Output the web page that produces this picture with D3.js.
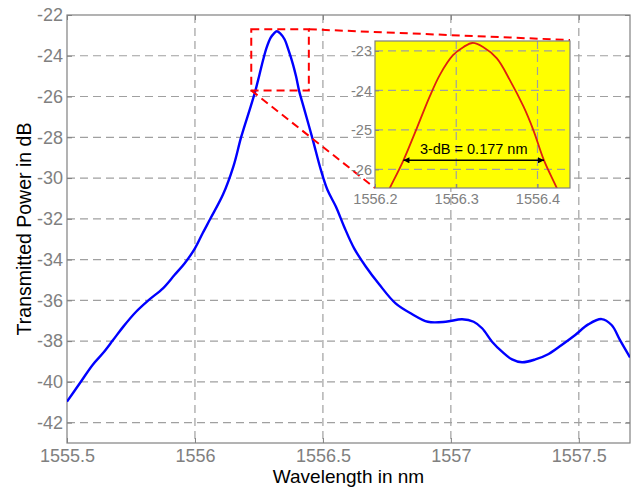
<!DOCTYPE html>
<html>
<head>
<meta charset="utf-8">
<script src="https://cdn.jsdelivr.net/npm/d3@7"></script>
<style>
html,body{margin:0;padding:0;background:#fff;}
svg{display:block;font-family:"Liberation Sans",Arial,Helvetica,sans-serif;}
</style>
</head>
<body>
<svg id="chart" width="636" height="487"></svg>
<script>
// ---- data ----
const wavelength = [1555.50,1555.55,1555.60,1555.64,1555.68,1555.72,1555.77,1555.82,1555.875,1555.92,1555.96,1556.00,1556.03,1556.06,1556.11,1556.15,1556.181,
  1556.218,1556.235,1556.252,1556.267,1556.28,1556.296,1556.309,1556.320,1556.333,1556.35,1556.366,1556.383,1556.395,1556.408,1556.424,
  1556.459,1556.492,1556.518,1556.551,1556.583,1556.622,1556.668,1556.719,1556.784,1556.849,1556.91,1556.98,1557.044,1557.089,1557.122,1557.161,1557.20,1557.239,1557.278,1557.33,1557.382,1557.433,1557.486,1557.537,1557.589,1557.628,1557.661,1557.70];
const power = [-40.97,-40.07,-39.17,-38.60,-37.95,-37.29,-36.56,-35.98,-35.41,-34.76,-34.18,-33.45,-32.71,-32.00,-30.80,-29.44,-27.97,
  -26.48,-25.77,-24.93,-24.17,-23.60,-23.11,-22.90,-22.80,-22.90,-23.19,-23.74,-24.42,-25.01,-25.77,-26.48,
  -28.05,-29.60,-30.59,-31.41,-32.39,-33.45,-34.35,-35.20,-36.15,-36.68,-37.05,-37.05,-36.93,-37.05,-37.37,-38.03,-38.52,-38.90,-39.04,-38.90,-38.63,-38.19,-37.70,-37.18,-36.92,-37.21,-37.95,-38.80];
const xTicks = [1555.5,1556,1556.5,1557,1557.5];
const xTickLabels = ["1555.5","1556","1556.5","1557","1557.5"];
const yTicks = [-42,-40,-38,-36,-34,-32,-30,-28,-26,-24,-22];
const yTickLabels = ["-42","-40","-38","-36","-34","-32","-30","-28","-26","-24","-22"];
const insetXTicks = [1556.2,1556.3,1556.4];
const insetXTickLabels = ["1556.2","1556.3","1556.4"];
const insetYTicks = [-26,-25,-24,-23];
const insetYTickLabels = ["-26","-25","-24","-23"];
const zoomBoxX = [1556.22,1556.445];
const zoomBoxY = [-25.7,-22.7];
const fwhmX = [1556.235,1556.408];
const fwhmY = -25.77;
const fwhmLabel = "3-dB = 0.177 nm";
const xLabel = "Wavelength in nm";
const yLabel = "Transmitted Power in dB";

const data = wavelength.map((w,i)=>({w, p: power[i]}));

// ---- layout ----
const svg = d3.select("#chart");
const M = {left:67, top:15, right:630, bottom:443};
const x = d3.scaleLinear().domain([1555.5,1557.7]).range([M.left,M.right]);
const y = d3.scaleLinear().domain([-43,-22]).range([M.bottom,M.top]);

const gridColor = "#a0a0a0", axisColor = "#808080", labelColor = "#808080";
const defs = svg.append("defs");
defs.append("clipPath").attr("id","mainClip").append("rect")
  .attr("x",M.left).attr("y",M.top).attr("width",M.right-M.left).attr("height",M.bottom-M.top);

// grid
const grid = svg.append("g");
grid.selectAll(".gx").data(xTicks.slice(1)).join("line")
  .attr("x1",d=>x(d)).attr("x2",d=>x(d)).attr("y1",M.top).attr("y2",M.bottom)
  .attr("stroke",gridColor).attr("stroke-width",1.2).attr("stroke-dasharray","8,5");
grid.selectAll(".gy").data(yTicks.filter(d=>d>-43 && d<-22)).join("line")
  .attr("y1",d=>y(d)).attr("y2",d=>y(d)).attr("x1",M.left).attr("x2",M.right)
  .attr("stroke",gridColor).attr("stroke-width",1.2).attr("stroke-dasharray","8,5");

// axes (MATLAB-like box, inward ticks)
const axB = d3.axisBottom(x).tickValues(xTicks).tickFormat((d,i)=>xTickLabels[i]).tickSizeInner(-5).tickSizeOuter(0).tickPadding(6);
const axT = d3.axisTop(x).tickValues(xTicks).tickFormat("").tickSizeInner(-5).tickSizeOuter(0);
const axL = d3.axisLeft(y).tickValues(yTicks).tickFormat((d,i)=>yTickLabels[i]).tickSizeInner(-5).tickSizeOuter(0).tickPadding(4);
const axR = d3.axisRight(y).tickValues(yTicks).tickFormat("").tickSizeInner(-5).tickSizeOuter(0);
function styleAxis(g, fs){
  g.select(".domain").remove();
  g.selectAll("line").attr("stroke",axisColor);
  g.selectAll("text").attr("fill",labelColor).style("font-size",fs+"px").attr("font-family",null);
}
svg.append("g").attr("transform",`translate(0,${M.bottom})`).call(axB).call(g=>styleAxis(g,18));
svg.append("g").attr("transform",`translate(0,${M.top})`).call(axT).call(g=>styleAxis(g,18));
svg.append("g").attr("transform",`translate(${M.left},0)`).call(axL).call(g=>styleAxis(g,18));
svg.append("g").attr("transform",`translate(${M.right},0)`).call(axR).call(g=>styleAxis(g,18));
svg.append("rect").attr("x",M.left).attr("y",M.top).attr("width",M.right-M.left).attr("height",M.bottom-M.top)
  .attr("fill","none").attr("stroke",axisColor).attr("stroke-width",1.2);

// main curve
const line = d3.line().x(d=>x(d.w)).y(d=>y(d.p)).curve(d3.curveCatmullRom.alpha(0.5));
svg.append("path").datum(data).attr("clip-path","url(#mainClip)")
  .attr("d",line).attr("fill","none").attr("stroke","#0000ff").attr("stroke-width",2.4);

// titles
svg.append("text").attr("x",(M.left+M.right)/2).attr("y",483).attr("text-anchor","middle")
  .style("font-size","19px").attr("fill","#000").text(xLabel);
svg.append("text").attr("transform",`translate(31,${(M.top+M.bottom)/2}) rotate(-90)`).attr("text-anchor","middle")
  .style("font-size","19.5px").attr("fill","#000").text(yLabel);

// ---- inset ----
const I = {left:375, top:41, right:570, bottom:188};
const xi = d3.scaleLinear().domain([1556.2,1556.44]).range([I.left,I.right]);
const yi = d3.scaleLinear().domain([-26.47,-22.75]).range([I.bottom,I.top]);

// zoom box + connectors
const red = "#ff0000";
const bx0 = x(zoomBoxX[0]), bx1 = x(zoomBoxX[1]), by0 = y(zoomBoxY[1]), by1 = y(zoomBoxY[0]);
svg.append("rect").attr("x",bx0).attr("y",by0).attr("width",bx1-bx0).attr("height",by1-by0)
  .attr("fill","none").attr("stroke",red).attr("stroke-width",2).attr("stroke-dasharray","8,5");
svg.append("line").attr("x1",bx1).attr("y1",by0).attr("x2",I.right).attr("y2",I.top-1)
  .attr("stroke",red).attr("stroke-width",2).attr("stroke-dasharray","8,5");
svg.append("line").attr("x1",bx0).attr("y1",by1).attr("x2",I.left).attr("y2",I.bottom)
  .attr("stroke",red).attr("stroke-width",2).attr("stroke-dasharray","8,5");

svg.append("rect").attr("x",I.left).attr("y",I.top).attr("width",I.right-I.left).attr("height",I.bottom-I.top)
  .attr("fill","#ffff00");
defs.append("clipPath").attr("id","insetClip").append("rect")
  .attr("x",I.left).attr("y",I.top).attr("width",I.right-I.left).attr("height",I.bottom-I.top);
const ig = svg.append("g");
ig.selectAll(".igx").data(insetXTicks.slice(1)).join("line")
  .attr("x1",d=>xi(d)).attr("x2",d=>xi(d)).attr("y1",I.top).attr("y2",I.bottom)
  .attr("stroke",gridColor).attr("stroke-width",1.2).attr("stroke-dasharray","8,5");
ig.selectAll(".igy").data(insetYTicks).join("line")
  .attr("y1",d=>yi(d)).attr("y2",d=>yi(d)).attr("x1",I.left).attr("x2",I.right)
  .attr("stroke",gridColor).attr("stroke-width",1.2).attr("stroke-dasharray","8,5");

const aiB = d3.axisBottom(xi).tickValues(insetXTicks).tickFormat((d,i)=>insetXTickLabels[i]).tickSizeInner(-4).tickSizeOuter(0).tickPadding(6);
const aiL = d3.axisLeft(yi).tickValues(insetYTicks).tickFormat((d,i)=>insetYTickLabels[i]).tickSizeInner(-4).tickSizeOuter(0).tickPadding(3);
svg.append("g").attr("transform",`translate(0,${I.bottom})`).call(aiB).call(g=>styleAxis(g,14.5));
svg.append("g").attr("transform",`translate(${I.left},0)`).call(aiL).call(g=>styleAxis(g,14.5));

const lineI = d3.line().x(d=>xi(d.w)).y(d=>yi(d.p)).curve(d3.curveCatmullRom.alpha(0.5));
svg.append("path").datum(data.filter(d=>d.w>1556.1 && d.w<1556.55)).attr("clip-path","url(#insetClip)")
  .attr("d",lineI).attr("fill","none").attr("stroke","#e02010").attr("stroke-width",1.8);

svg.append("rect").attr("x",I.left).attr("y",I.top).attr("width",I.right-I.left).attr("height",I.bottom-I.top)
  .attr("fill","none").attr("stroke",axisColor).attr("stroke-width",1.2);

// FWHM arrow
defs.append("marker").attr("id","arr").attr("viewBox","0 0 10 10").attr("refX",10).attr("refY",5)
  .attr("markerWidth",7).attr("markerHeight",6).attr("markerUnits","userSpaceOnUse").attr("orient","auto-start-reverse")
  .append("path").attr("d","M0,0 L10,5 L0,10 z").attr("fill","#000");
svg.append("line").attr("x1",xi(fwhmX[0])).attr("x2",xi(fwhmX[1])).attr("y1",yi(fwhmY)).attr("y2",yi(fwhmY))
  .attr("stroke","#000").attr("stroke-width",1.5)
  .attr("marker-start","url(#arr)").attr("marker-end","url(#arr)");
svg.append("text").attr("x",(xi(fwhmX[0])+xi(fwhmX[1]))/2).attr("y",yi(fwhmY)-6).attr("text-anchor","middle")
  .style("font-size","14.5px").attr("fill","#000").text(fwhmLabel);
</script>
</body>
</html>
